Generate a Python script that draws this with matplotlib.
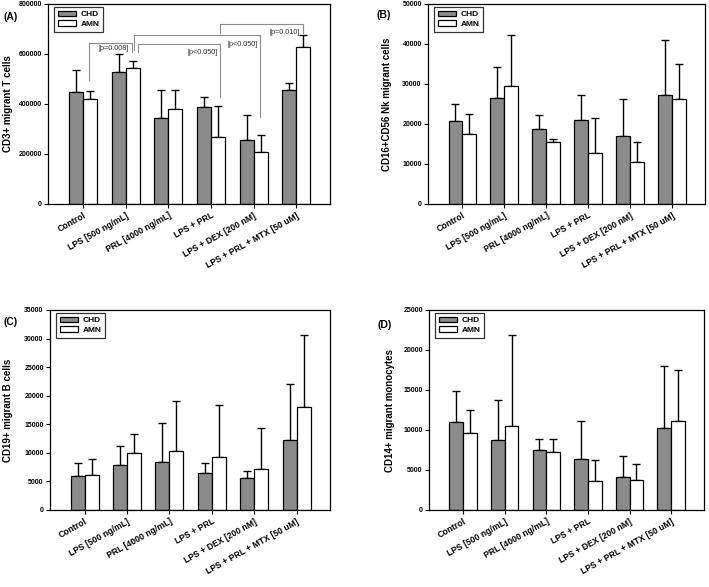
import numpy as np
import matplotlib
matplotlib.use("Agg")
import matplotlib.pyplot as plt

plt.rcParams['font.family'] = ['Liberation Sans', 'DejaVu Sans']

groups = ["Control", "LPS [500 ng/mL]", "PRL [4000 ng/mL]", "LPS + PRL",
          "LPS + DEX [200 nM]", "LPS + PRL + MTX [50 uM]"]

# panel A - CD3+ T cells
t_chd = [450000, 528000, 346000, 389000, 258000, 455000]
t_chd_sd = [88000, 74000, 110000, 40000, 98000, 30000]
t_amn = [422000, 544000, 381000, 268000, 208000, 627000]
t_amn_sd = [31000, 29000, 75000, 124000, 69000, 49000]

# panel B - NK cells
nk_chd = [20800, 26600, 18700, 21000, 17100, 27300]
nk_chd_sd = [4200, 7600, 3600, 6200, 9100, 13700]
nk_amn = [17500, 29400, 15600, 12700, 10400, 26300]
nk_amn_sd = [4900, 12800, 700, 8700, 5100, 8700]

# panel C - B cells
b_chd = [6000, 7900, 8400, 6500, 5600, 12200]
b_chd_sd = [2300, 3300, 6900, 1800, 1200, 9900]
b_amn = [6100, 9900, 10400, 9200, 7200, 18000]
b_amn_sd = [2800, 3400, 8700, 9100, 7200, 12600]

# panel D - monocytes
m_chd = [11000, 8700, 7500, 6400, 4100, 10200]
m_chd_sd = [3900, 5000, 1400, 4700, 2700, 7800]
m_amn = [9600, 10500, 7200, 3600, 3700, 11100]
m_amn_sd = [2900, 11400, 1700, 2600, 2100, 6400]

# significance brackets in panel A (between AMN bars)
# (left group, right group, top, left leg end, right leg end, label, label y)
brackets = [
    (0, 1, 643000, 496000, 608000, "[p=0.008]", 620000),
    (3, 5, 720000, 684000, 684000, "[p=0.010]", 688000),
    (1, 4, 676000, 616000, 348000, "[p<0.050]", 640000),
    (1, 3, 640000, 608000, 428000, "[p<0.050]", 608000),
]
# small horizontal shifts of the legs so the brackets don't overlap
leg_shift = [(-0.03, -0.02), (0.05, -0.01), (0.03, -0.02), (0.12, 0.05)]

W, H = 709, 587
fig = plt.figure(figsize=(W / 100, H / 100), dpi=100)

width = 0.33
gray = '#8b8b8b'


def px_axes(l, t, r, b):
    return fig.add_axes([l / W, 1 - b / H, (r - l) / W, (b - t) / H])


def draw_panel(ax, chd, chd_sd, amn, amn_sd, ymax, step, ylabel, lab_x):
    x = np.arange(len(groups))
    ax.bar(x - width / 2, chd, width, color=gray, edgecolor='black', linewidth=0.9,
           label='CHD', zorder=2)
    ax.bar(x + width / 2, amn, width, color='white', edgecolor='black', linewidth=0.9,
           label='AMN', zorder=2)
    ax.errorbar(x - width / 2, chd, yerr=[np.zeros(len(chd)), chd_sd], fmt='none',
                ecolor='black', elinewidth=1.0, capsize=3, capthick=1.0, zorder=1)
    ax.errorbar(x + width / 2, amn, yerr=[np.zeros(len(amn)), amn_sd], fmt='none',
                ecolor='black', elinewidth=1.0, capsize=3, capthick=1.0, zorder=1)
    ax.set_xlim(-0.82, 5.79)
    ax.set_ylim(0, ymax)
    ticks = np.arange(0, ymax + 1, step)
    ax.set_yticks(ticks)
    ax.set_yticklabels([str(int(t)) for t in ticks], fontsize=5, fontweight='bold')
    ax.set_xticks(x)
    ax.set_xticklabels(groups, rotation=29, ha='right', rotation_mode='anchor',
                       fontsize=6.2, fontweight='bold')
    ax.tick_params(axis='both', direction='out', length=3, width=0.8, pad=1.5)
    ax.tick_params(axis='x', pad=2)
    for s in ax.spines.values():
        s.set_linewidth(0.9)
    ax.set_ylabel(ylabel, fontsize=7, fontweight='bold')
    ax.yaxis.set_label_coords(lab_x, 0.5)
    leg = ax.legend(loc='upper left', bbox_to_anchor=(0.022, 0.985),
                    prop={'weight': 'bold', 'size': 6}, frameon=True, fancybox=False,
                    handlelength=2.2, handleheight=0.6, handletextpad=0.5,
                    borderpad=0.45, labelspacing=0.25, borderaxespad=0)
    leg.get_frame().set_edgecolor('black')
    leg.get_frame().set_linewidth(0.9)


axA = px_axes(48, 4, 330, 204)
draw_panel(axA, t_chd, t_chd_sd, t_amn, t_amn_sd, 800000, 200000,
           "CD3+ migrant T cells", -0.125)
axB = px_axes(428, 4, 705, 204)
draw_panel(axB, nk_chd, nk_chd_sd, nk_amn, nk_amn_sd, 50000, 10000,
           "CD16+CD56 Nk migrant cells", -0.13)
axC = px_axes(50, 310, 330, 510)
draw_panel(axC, b_chd, b_chd_sd, b_amn, b_amn_sd, 35000, 5000,
           "CD19+ migrant B cells", -0.132)
axD = px_axes(429, 310, 704, 510)
draw_panel(axD, m_chd, m_chd_sd, m_amn, m_amn_sd, 25000, 5000,
           "CD14+ migrant monocytes", -0.125)

# brackets in panel A
for (g1, g2, top, y1, y2, txt, ty), (d1, d2) in zip(brackets, leg_shift):
    x1 = g1 + width / 2 + d1
    x2 = g2 + width / 2 + d2
    axA.plot([x1, x1, x2, x2], [y1, top, top, y2], color='#8c8c8c', lw=0.8,
             zorder=3, clip_on=False)
    axA.text(x2 - 0.06, ty, txt, fontsize=5.2, color='#333333', ha='right',
             va='center', zorder=4)

for lab, px, py in [("(A)", 3, 17), ("(B)", 377, 15), ("(C)", 3, 322), ("(D)", 378, 325)]:
    fig.text(px / W, 1 - py / H, lab, fontsize=7.5, fontweight='bold',
             ha='left', va='center')

fig.savefig("out.png", dpi=100)
